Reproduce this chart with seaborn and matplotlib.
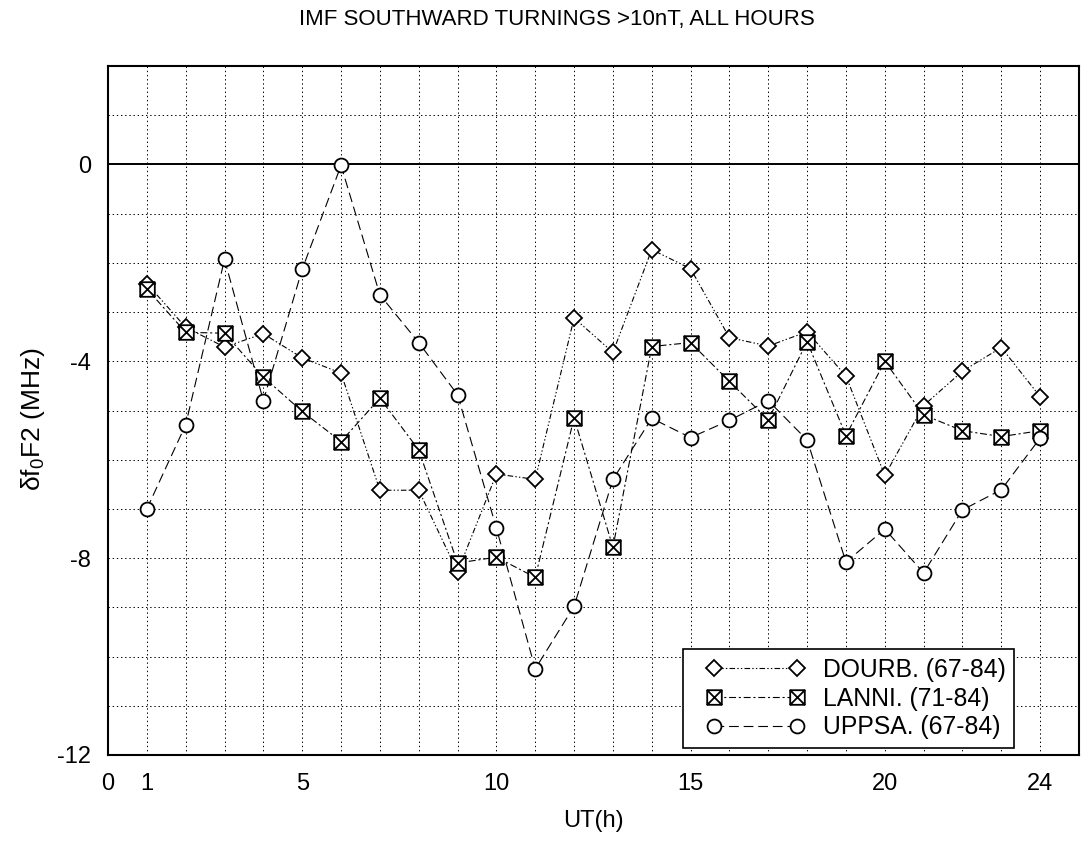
import numpy as np
import pandas as pd
import matplotlib
matplotlib.use("Agg")
import matplotlib.pyplot as plt
import seaborn as sns
from matplotlib.path import Path
from matplotlib.lines import Line2D
from matplotlib.legend_handler import HandlerLine2D
from matplotlib.ticker import MultipleLocator, FixedLocator

# ---------------- data ----------------
hours = list(range(1, 25))
dourb = [-2.42, -3.31, -3.71, -3.44, -3.93, -4.24, -6.62, -6.62, -8.28, -6.29, -6.40, -3.12,
         -3.82, -1.73, -2.12, -3.52, -3.69, -3.40, -4.30, -6.32, -4.90, -4.20, -3.72, -4.72]
lanni = [-2.53, -3.41, -3.43, -4.32, -5.02, -5.63, -4.75, -5.80, -8.10, -7.98, -8.39, -5.15,
         -7.78, -3.70, -3.62, -4.41, -5.19, -3.60, -5.51, -4.00, -5.09, -5.41, -5.53, -5.41]
uppsa = [-7.00, -5.29, -1.93, -4.80, -2.13, -0.02, -2.65, -3.62, -4.68, -7.39, -10.25, -8.98,
         -6.40, -5.16, -5.55, -5.20, -4.80, -5.60, -8.08, -7.41, -8.30, -7.02, -6.61, -5.56]
series_labels = ["DOURB. (67-84)", "LANNI. (71-84)", "UPPSA. (67-84)"]
xtick_values = [0, 1, 5, 10, 15, 20, 24]
xtick_labels = ["0", "1", "5", "10", "15", "20", "24"]
ytick_values = [-12, -8, -4, 0]
ytick_labels = ["-12", "-8", "-4", "0"]
title_text = "IMF SOUTHWARD TURNINGS >10nT, ALL HOURS"
xlabel_text = "UT(h)"
ylabel_text = "δf$_0$F2 (MHz)"

# ---------------- style ----------------
sns.set_style("white")
plt.rcParams["font.family"] = ["Liberation Sans", "DejaVu Sans"]
plt.rcParams["mathtext.fontset"] = "custom"
plt.rcParams["mathtext.rm"] = "Liberation Sans"
plt.rcParams["mathtext.it"] = "Liberation Sans"
plt.rcParams["lines.scale_dashes"] = False
for k in ["text.color", "axes.labelcolor", "xtick.color", "ytick.color"]:
    plt.rcParams[k] = "black"

# boxed-X marker
boxx = Path(
    [(-1, -1), (1, -1), (1, 1), (-1, 1), (-1, -1),
     (-1, -1), (1, 1), (-1, 1), (1, -1)],
    [Path.MOVETO, Path.LINETO, Path.LINETO, Path.LINETO, Path.CLOSEPOLY,
     Path.MOVETO, Path.LINETO, Path.MOVETO, Path.LINETO],
)

styles = [
    dict(marker="D", markersize=8, linestyle=(0, (4, 1.6, 1, 1.6, 1, 1.6))),
    dict(marker=boxx, markersize=10.5, linestyle=(0, (5, 2, 1.5, 2))),
    dict(marker="o", markersize=10, linestyle=(0, (7, 3.5))),
]

fig = plt.figure(figsize=(10.81, 8.42), dpi=100)
ax = fig.add_axes([108 / 1081, 1 - 755 / 842, (1079 - 108) / 1081, (755 - 66) / 842])

series_values = [dourb, lanni, uppsa]
for vals, lab, st in zip(series_values, series_labels, styles):
    df = pd.DataFrame({"hour": hours, "value": vals})
    sns.lineplot(data=df, x="hour", y="value", ax=ax, color="black", errorbar=None,
                 linewidth=0.8, markerfacecolor="white", markeredgecolor="black",
                 markeredgewidth=1.3, legend=False, **st)

ax.axhline(0, color="black", linewidth=1.4, zorder=1.5)

ax.set_xlim(0, 25)
ax.set_ylim(-12, 2)
ax.xaxis.set_major_locator(FixedLocator(xtick_values))
ax.set_xticklabels(xtick_labels)
ax.xaxis.set_minor_locator(MultipleLocator(1))
ax.yaxis.set_major_locator(FixedLocator(ytick_values))
ax.set_yticklabels(ytick_labels)
ax.yaxis.set_minor_locator(MultipleLocator(1))

ax.grid(which="both", color="black", linestyle=(0, (1, 2)), linewidth=0.7)
ax.set_axisbelow(True)
ax.tick_params(which="both", direction="in", length=5, width=0.8, color="black")
ax.tick_params(axis="x", which="major", labelsize=17, pad=13)
ax.tick_params(axis="y", which="major", labelsize=17, pad=12)
for s in ax.spines.values():
    s.set_color("black")
    s.set_linewidth(1.5)

ax.set_xlabel(xlabel_text, fontsize=17, labelpad=11)
ax.set_ylabel(ylabel_text, fontsize=19)
ax.yaxis.set_label_coords(-0.063, 0.488)
fig.text(557 / 1081, 1 - 20 / 842, title_text, ha="center", va="center", fontsize=16)

handles = [Line2D([], [], color="black", linewidth=0.8, markerfacecolor="white",
                  markeredgecolor="black", markeredgewidth=1.3, **st) for st in styles]
leg = ax.legend(handles, series_labels, loc="lower left", bbox_to_anchor=(0.592, 0.010),
                borderaxespad=0, numpoints=2, handlelength=5.15, handletextpad=0.15,
                labelspacing=0.2, borderpad=0.35, fontsize=17.8, frameon=True,
                fancybox=False, framealpha=1, edgecolor="black",
                handler_map={Line2D: HandlerLine2D(marker_pad=0.9)})
leg.get_frame().set_linewidth(1.2)

fig.savefig("out.png", dpi=100)
